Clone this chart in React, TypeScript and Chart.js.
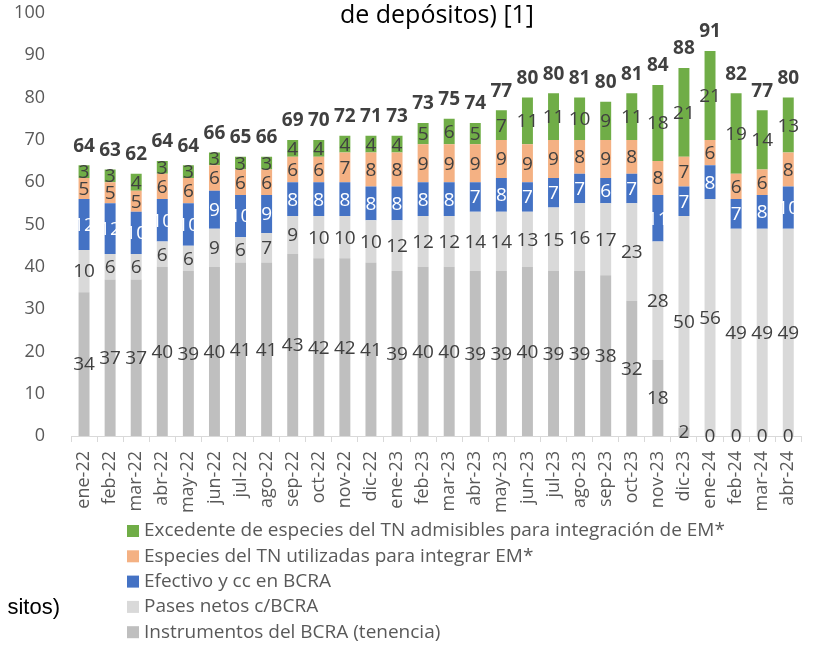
import React, { useEffect, useRef } from "react";
import { Chart, registerables } from "chart.js";

Chart.register(...registerables);

const months = [
  "ene-22", "feb-22", "mar-22", "abr-22", "may-22", "jun-22", "jul-22", "ago-22", "sep-22", "oct-22", "nov-22", "dic-22",
  "ene-23", "feb-23", "mar-23", "abr-23", "may-23", "jun-23", "jul-23", "ago-23", "sep-23", "oct-23", "nov-23", "dic-23",
  "ene-24", "feb-24", "mar-24", "abr-24",
];
const instrumentos = [34, 37, 37, 40, 39, 40, 41, 41, 43, 42, 42, 41, 39, 40, 40, 39, 39, 40, 39, 39, 38, 32, 18, 2, 0, 0, 0, 0];
const pases = [10, 6, 6, 6, 6, 9, 6, 7, 9, 10, 10, 10, 12, 12, 12, 14, 14, 13, 15, 16, 17, 23, 28, 50, 56, 49, 49, 49];
const efectivo = [12, 12, 10, 10, 10, 9, 10, 9, 8, 8, 8, 8, 8, 8, 8, 7, 8, 7, 7, 7, 6, 7, 11, 7, 8, 7, 8, 10];
const especies = [5, 5, 5, 6, 6, 6, 6, 6, 6, 6, 7, 8, 8, 9, 9, 9, 9, 9, 9, 8, 9, 8, 8, 7, 6, 6, 6, 8];
const excedente = [3, 3, 4, 3, 3, 3, 3, 3, 4, 4, 4, 4, 4, 5, 6, 5, 7, 11, 11, 10, 9, 11, 18, 21, 21, 19, 14, 13];
const totals = [64, 63, 62, 64, 64, 66, 65, 66, 69, 70, 72, 71, 73, 73, 75, 74, 77, 80, 80, 81, 80, 81, 84, 88, 91, 82, 77, 80];

const seriesNames = [
  "Instrumentos del BCRA (tenencia)",
  "Pases netos c/BCRA",
  "Efectivo y cc en BCRA",
  "Especies del TN utilizadas para integrar EM*",
  "Excedente de especies del TN admisibles para integración de EM*",
];
const seriesColors = ["#BFBFBF", "#D9D9D9", "#4472C4", "#F4B183", "#70AD47"];
const labelColors = ["#404040", "#404040", "#FFFFFF", "#404040", "#404040"];
const titleText = "de depósitos) [1]";
const leftCutText = "sitos)";

const FONT = '"Open Sans", sans-serif';

const segLabels = {
  id: "segLabels",
  afterDatasetsDraw(chart: any) {
    const ctx = chart.ctx;
    ctx.save();
    ctx.textAlign = "center";
    ctx.textBaseline = "middle";
    chart.data.datasets.forEach((ds: any, di: number) => {
      const meta = chart.getDatasetMeta(di);
      meta.data.forEach((el: any, i: number) => {
        const p = el.getProps(["x", "y", "base"], true);
        ctx.fillStyle = labelColors[di];
        ctx.font = `19px ${FONT}`;
        ctx.fillText(String(ds.data[i]), p.x, (p.y + p.base) / 2 + 1);
      });
    });
    const last = chart.getDatasetMeta(chart.data.datasets.length - 1);
    last.data.forEach((el: any, i: number) => {
      const p = el.getProps(["x", "y"], true);
      ctx.fillStyle = "#404040";
      ctx.font = `bold 19px ${FONT}`;
      ctx.fillText(String(totals[i]), p.x, p.y - 19);
    });
    ctx.restore();
  },
};

const extras = {
  id: "extras",
  afterDraw(chart: any) {
    const ctx = chart.ctx;
    ctx.save();
    // title remnant
    ctx.fillStyle = "#000000";
    ctx.font = `25px ${FONT}`;
    ctx.textAlign = "center";
    ctx.textBaseline = "alphabetic";
    ctx.fillText(titleText, 437, 23);
    // left cut text
    ctx.font = '22px "Liberation Sans", Arial, sans-serif';
    ctx.textAlign = "right";
    ctx.fillText(leftCutText, 60, 614);
    // legend (vertical list, top series first)
    const n = chart.data.datasets.length;
    ctx.font = `19px ${FONT}`;
    ctx.textAlign = "left";
    ctx.textBaseline = "middle";
    for (let k = 0; k < n; k++) {
      const di = n - 1 - k;
      const ds = chart.data.datasets[di];
      const cy = 531 + k * 25.3;
      ctx.fillStyle = ds.backgroundColor;
      ctx.fillRect(127, cy - 6, 12, 12);
      ctx.fillStyle = "#595959";
      ctx.fillText(ds.label, 144, cy);
    }
    ctx.restore();
  },
};

export default function App() {
  const ref = useRef<HTMLCanvasElement | null>(null);
  useEffect(() => {
    document.body.style.margin = "0";
    const canvas = ref.current;
    if (!canvas) return;
    const seriesData = [instrumentos, pases, efectivo, especies, excedente];
    const chart = new Chart(canvas, {
      type: "bar",
      data: {
        labels: months,
        datasets: seriesData.map((d, i) => ({
          label: seriesNames[i],
          data: d,
          backgroundColor: seriesColors[i],
          borderWidth: 0,
          barPercentage: 0.42,
          categoryPercentage: 1,
        })),
      },
      options: {
        animation: false,
        responsive: false,
        maintainAspectRatio: false,
        layout: { padding: { left: 0, right: 7, top: 13, bottom: 129 } },
        plugins: {
          legend: { display: false },
          tooltip: { enabled: false },
          title: { display: false },
        },
        scales: {
          x: {
            stacked: true,
            grid: {
              display: true,
              drawOnChartArea: false,
              drawTicks: true,
              tickLength: 6,
              color: "#D9D9D9",
              offset: true,
            },
            border: { display: true, color: "#D9D9D9" },
            ticks: {
              autoSkip: false,
              minRotation: 90,
              maxRotation: 90,
              padding: 9,
              color: "#595959",
              font: { family: FONT, size: 18 },
            },
            afterFit: (s: any) => {
              s.height = 80;
            },
          },
          y: {
            stacked: true,
            min: 0,
            max: 100,
            ticks: {
              stepSize: 10,
              padding: 26,
              color: "#595959",
              font: { family: FONT, size: 18 },
            },
            grid: { display: false, drawTicks: false },
            border: { display: false },
            afterFit: (s: any) => {
              s.width = 71;
              s.paddingTop = 11;
              s.paddingBottom = 11;
            },
          },
        },
      },
      plugins: [segLabels, extras],
    });
    return () => chart.destroy();
  }, []);
  return (
    <div style={{ width: 819, height: 645 }}>
      <canvas ref={ref} width={819} height={645} style={{ display: "block" }} />
    </div>
  );
}
